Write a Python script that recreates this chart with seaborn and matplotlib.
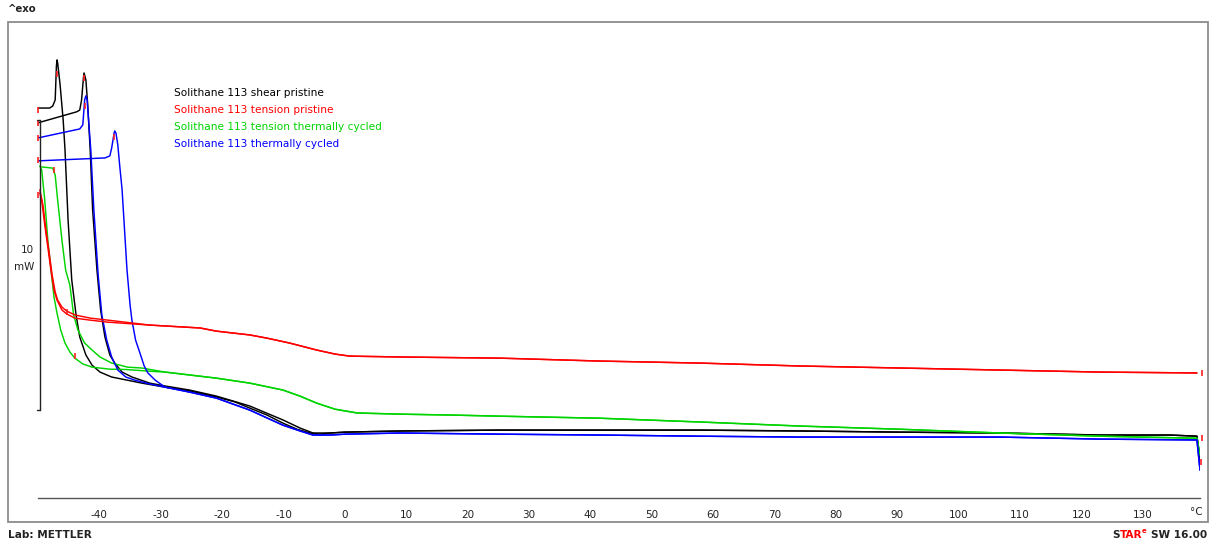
import numpy as np
import pandas as pd
import matplotlib
matplotlib.use("Agg")
import matplotlib.pyplot as plt
from matplotlib.patches import Rectangle
from matplotlib.ticker import MultipleLocator
import seaborn as sns

# ---- DSC heating curves (temperature in degC, heat flow in mW, exo up) ----
labels = ["Solithane 113 shear pristine",
          "Solithane 113 tension pristine",
          "Solithane 113 tension thermally cycled",
          "Solithane 113 thermally cycled"]
colors = ["#000000", "#ff0000", "#00d400", "#0000ff"]

# shear pristine, run 1 and run 2
shear_a_T = [-50.0, -48.1, -47.6, -47.2, -47.0, -46.9, -46.8, -46.4, -45.9, -45.6, -45.1, -44.5,
             -43.8, -43.2, -42.2, -41.2, -39.9, -38.0, -33.1, -29.3, -25.3, -20.9, -17.9, -15.5,
             -12.7, -10.1, -7.8, -5.7, -4.1, -2.4]
shear_a_W = [10.41, 10.41, 10.48, 10.69, 11.86, 12.07, 11.97, 11.21, 10.00, 8.97, 6.55, 4.48,
             3.28, 2.52, 1.90, 1.55, 1.31, 1.14, 0.93, 0.79, 0.66, 0.45, 0.28, 0.07,
             -0.17, -0.45, -0.66, -0.79, -0.83, -0.79]
shear_b_T = [-50.0, -43.7, -43.2, -42.9, -42.6, -42.5, -42.2, -41.9, -41.5, -41.1, -40.4, -39.8,
             -39.1, -38.3, -37.5, -36.3, -34.7, -31.8, -29.3, -25.3, -20.9, -15.5, -10.1, -7.3,
             -5.2, -2.4]
shear_b_W = [9.90, 10.28, 10.34, 10.69, 11.45, 11.62, 11.38, 10.52, 8.97, 6.90, 4.83, 3.45,
             2.52, 1.90, 1.62, 1.31, 1.14, 0.93, 0.83, 0.69, 0.48, 0.14, -0.34, -0.62,
             -0.79, -0.79]
shear_tail_T = [0.0, 9.0, 25.3, 41.5, 57.8, 74.1, 90.4, 106.7, 123.0, 134.4, 138.8, 139.3]
shear_tail_W = [-0.76, -0.72, -0.69, -0.69, -0.69, -0.72, -0.76, -0.79, -0.86, -0.86, -0.90, -1.70]

# tension pristine, run 1 and run 2
tension_a_T = [-49.7, -49.4, -48.9, -48.4, -47.9, -47.4, -46.9, -46.1, -45.3, -44.0, -41.5, -38.6]
tension_a_W = [7.48, 7.24, 6.38, 5.62, 4.83, 4.14, 3.79, 3.45, 3.31, 3.17, 3.10, 3.03]
tension_b_T = [-49.7, -49.2, -48.7, -48.2, -47.7, -47.2, -46.8, -46.1, -45.3, -44.0, -41.5, -38.6]
tension_b_W = [7.59, 7.07, 6.21, 5.45, 4.66, 4.07, 3.79, 3.55, 3.41, 3.28, 3.17, 3.10]
tension_tail_T = [-31.8, -23.6, -20.9, -15.5, -12.7, -9.0, -4.6, -1.6, 0.8, 9.0, 25.3, 41.5,
                  57.8, 74.1, 90.4, 106.7, 123.0, 138.8]
tension_tail_W = [2.93, 2.83, 2.72, 2.59, 2.48, 2.31, 2.07, 1.93, 1.86, 1.83, 1.79, 1.69,
                  1.62, 1.52, 1.45, 1.38, 1.31, 1.28]

# tension thermally cycled, run 1 and run 2
cycled_t_a_T = [-49.7, -49.4, -48.9, -48.4, -47.7, -47.4, -46.9, -46.3, -45.6, -44.8, -44.0,
                -42.7, -41.2, -38.3, -35.8, -31.8]
cycled_t_a_W = [8.41, 8.28, 7.24, 5.86, 4.48, 3.90, 3.34, 2.76, 2.31, 2.00, 1.79,
                1.59, 1.48, 1.41, 1.40, 1.34]
cycled_t_b_T = [-49.4, -47.6, -47.2, -46.8, -46.1, -45.5, -44.8, -44.2, -43.5, -42.4, -41.2,
                -39.9, -38.0, -35.4, -33.1]
cycled_t_b_W = [8.38, 8.34, 8.10, 7.24, 5.86, 4.83, 4.30, 3.28, 2.76, 2.31, 2.07,
                1.83, 1.62, 1.48, 1.45]
cycled_t_tail_T = [-29.3, -20.9, -15.5, -10.1, -7.3, -4.6, -1.6, 2.0, 9.0, 17.1, 25.3, 41.5,
                   57.8, 74.1, 90.4, 106.7, 123.0, 138.8, 139.3]
cycled_t_tail_W = [1.31, 1.10, 0.93, 0.69, 0.48, 0.24, 0.03, -0.10, -0.14, -0.17, -0.21, -0.28,
                   -0.41, -0.55, -0.66, -0.79, -0.90, -0.97, -1.55]

# thermally cycled, run 1 and run 2
cycled_a_T = [-50.0, -43.2, -42.7, -42.4, -42.2, -42.0, -41.7, -41.4, -40.9, -40.2, -39.6,
              -38.8, -38.0, -37.0, -35.7, -34.2, -31.8]
cycled_a_W = [9.38, 9.69, 9.83, 10.69, 10.83, 10.69, 9.83, 8.97, 6.90, 4.66, 3.28,
              2.41, 1.83, 1.38, 1.14, 1.03, 0.90]
cycled_b_T = [-50.0, -39.1, -38.3, -38.0, -37.6, -37.5, -37.3, -37.0, -36.7, -36.3, -35.8,
              -35.5, -35.0, -34.7, -34.1, -33.4, -32.7, -32.1, -30.9]
cycled_b_W = [8.59, 8.69, 8.76, 9.03, 9.55, 9.62, 9.55, 9.14, 8.45, 7.59, 5.86,
              4.83, 3.62, 3.10, 2.41, 1.97, 1.52, 1.28, 1.03]
cycled_tail_T = [-29.3, -25.3, -20.9, -15.5, -10.1, -7.3, -5.2, -2.4, 0.0, 9.0, 25.3, 41.5,
                 57.8, 74.1, 90.4, 106.7, 123.0, 138.8, 139.3]
cycled_tail_W = [0.79, 0.62, 0.41, 0.00, -0.52, -0.72, -0.86, -0.86, -0.83, -0.79, -0.83, -0.86,
                 -0.90, -0.93, -0.93, -0.93, -1.00, -1.03, -2.07]

# evaluation / segment markers
marker_T = [-50.0, -50.0, -50.0, -50.0, -50.0, -46.9, -42.5, -42.4, -37.6, -47.4, -45.3, -44.0,
            139.6, 139.6, 139.5]
marker_W = [10.34, 9.90, 9.38, 8.62, 7.41, 11.59, 11.45, 10.48, 9.41, 8.28, 3.38, 1.86,
            1.28, -0.97, -1.79]

x_ticks = list(range(-40, 131, 10))

# ---- assemble long-form table ----
def run_frame(name, run, T, W):
    return pd.DataFrame({"sample": name, "run": run, "T": T, "W": W})

frames = [
    run_frame(labels[0], 1, shear_a_T + shear_tail_T, shear_a_W + shear_tail_W),
    run_frame(labels[0], 2, shear_b_T + shear_tail_T, shear_b_W + shear_tail_W),
    run_frame(labels[2], 1, cycled_t_a_T + cycled_t_tail_T, cycled_t_a_W + cycled_t_tail_W),
    run_frame(labels[2], 2, cycled_t_b_T + cycled_t_tail_T, cycled_t_b_W + cycled_t_tail_W),
    run_frame(labels[3], 1, cycled_a_T + cycled_tail_T, cycled_a_W + cycled_tail_W),
    run_frame(labels[3], 2, cycled_b_T + cycled_tail_T, cycled_b_W + cycled_tail_W),
    run_frame(labels[1], 1, tension_a_T + tension_tail_T, tension_a_W + tension_tail_W),
    run_frame(labels[1], 2, tension_b_T + tension_tail_T, tension_b_W + tension_tail_W),
]
df = pd.concat(frames, ignore_index=True)

sns.set_style("white")
plt.rcParams["font.family"] = ["DejaVu Sans"]

W_PX, H_PX = 1211, 543
fig = plt.figure(figsize=(W_PX / 100, H_PX / 100), dpi=100)

def fx(px):
    return px / W_PX

def fy(py):
    return 1 - py / H_PX

# outer grey frame
fig.patches.append(Rectangle((fx(8), fy(522)), fx(1208) - fx(8), fy(22) - fy(522),
                             transform=fig.transFigure, fill=False,
                             edgecolor="#8c8c8c", linewidth=1.3))

ax = fig.add_axes([fx(38), fy(498), fx(1200) - fx(38), fy(30) - fy(498)])
ax.set_facecolor("none")

palette = dict(zip(labels, colors))
draw_order = [labels[0], labels[2], labels[3], labels[1]]
for name in draw_order:
    sub = df[df["sample"] == name]
    sns.lineplot(data=sub, x="T", y="W", units="run", estimator=None, sort=False,
                 color=palette[name], linewidth=1.05, ax=ax, legend=False)

# segment markers
ax.plot(marker_T, marker_W, linestyle="none", marker="|", markersize=5,
        markeredgewidth=1.2, color="#ff2020", clip_on=False)

# 10 mW scale bar
bar_T = -49.7
ax.plot([bar_T, bar_T], [0, 10], color="#222222", lw=1.0, clip_on=False)
ax.plot([bar_T - 0.45, bar_T], [0, 0], color="#222222", lw=1.0, clip_on=False)
ax.plot([bar_T - 0.45, bar_T], [10, 10], color="#222222", lw=1.0, clip_on=False)
ax.text(-50.6, 5.52, "10", ha="right", va="center", fontsize=7.5, color="#222222")
ax.text(-50.6, 4.93, "mW", ha="right", va="center", fontsize=7.5, color="#222222")

ax.set_xlim(-50.0, 139.3)
ax.set_ylim(-3.03, 13.10)
ax.set_xticks(x_ticks)
ax.set_xticklabels([str(t) for t in x_ticks])
ax.xaxis.set_minor_locator(MultipleLocator(2))
ax.set_yticks([])
ax.set_xlabel("")
ax.set_ylabel("")
for side in ["top", "left", "right"]:
    ax.spines[side].set_visible(False)
ax.spines["bottom"].set_color("#555555")
ax.spines["bottom"].set_linewidth(1.0)
ax.tick_params(axis="x", which="major", direction="out", length=3.5, width=0.9,
               color="#555555", labelsize=7.5, labelcolor="#222222", pad=5)
ax.tick_params(axis="x", which="minor", direction="out", length=2.2, width=0.8,
               color="#555555")

# legend block
for i, (name, c) in enumerate(zip(labels, colors)):
    fig.text(fx(174), fy(93 + 17 * i), name, color=c, fontsize=7.6, va="center", ha="left")

# annotations around the frame
fig.text(fx(1203), fy(512), "°C", ha="right", va="center", fontsize=7.5, color="#222222")
fig.text(fx(8), fy(9), "^exo", ha="left", va="center", fontsize=7.3, fontweight="bold",
         color="#222222")
fig.text(fx(8), fy(535), "Lab: METTLER", ha="left", va="center", fontsize=7.6,
         fontweight="bold", color="#222222")

# software stamp, right-aligned pieces
stamp_y = fy(535)
t1 = fig.text(fx(1207), stamp_y, "SW 16.00", ha="right", va="center", fontsize=7.6,
              fontweight="bold", color="#222222")
fig.canvas.draw()
r = fig.canvas.get_renderer()
x_left = t1.get_window_extent(r).x0 - 4
t2 = fig.text(x_left / W_PX, fy(531), "e", ha="right", va="center", fontsize=5,
              fontweight="bold", color="#ff0000")
x_left = t2.get_window_extent(r).x0
t3 = fig.text(x_left / W_PX, stamp_y, "TAR", ha="right", va="center", fontsize=7.6,
              fontweight="bold", color="#ff0000")
x_left = t3.get_window_extent(r).x0
fig.text(x_left / W_PX, stamp_y, "S", ha="right", va="center", fontsize=7.6,
         fontweight="bold", color="#222222")

fig.savefig("out.png", dpi=100)
